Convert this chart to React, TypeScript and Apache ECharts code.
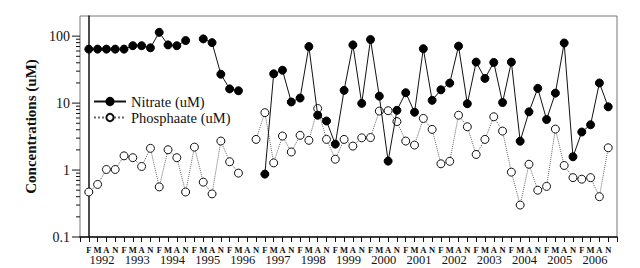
import React, { useEffect, useRef } from "react";
import * as echarts from "echarts";

const MONTHS = ["F", "M", "A", "N"];
const YEARS = ["1992","1993","1994","1995","1996","1997","1998","1999","2000","2001","2002","2003","2004","2005","2006"];

const NITRATE: (number | null)[] = [
  64, 64, 64, 64, 64, 72, 72, 67, 114, 74, 72, 86,
  null, 91, 80, 27, 16.3, 15.3, null, null,
  0.87, 27.4, 31, 10.4, 11.9, 70, 6.6, 5.4, 2.44, 15.5, 74, 9.9,
  89, 12.7, 1.36, 7.8, 14.3, 7.3, 65, 11, 15.8, 19.9, 71, 9.8,
  41, 23.4, 40.5, 10.2, 41, 2.7, 7.4, 16.6, 5.7, 14.1, 79, 1.58,
  3.7, 4.75, 20, 8.8,
];

const PHOSPHATE: (number | null)[] = [
  0.47, 0.61, 1.02, 1.02, 1.63, 1.53, 1.13, 2.11, 0.56, 2.01, 1.53, 0.47,
  2.2, 0.66, 0.44, 2.71, 1.33, 0.9, null, 2.87,
  7.2, 1.28, 3.22, 1.86, 3.3, 2.78, 8.3, 2.87, 1.45, 2.87, 2.28, 3.03,
  3.06, 7.6, 7.7, 5.3, 2.71, 2.36, 5.9, 4.05, 1.24, 1.35, 6.6, 4.43,
  1.71, 2.87, 6.25, 3.82, 0.93, 0.3, 1.22, 0.5, 0.57, 4.09, 1.17, 0.77,
  0.73, 0.77, 0.4, 2.15,
];

const Y_MAJOR = [0.1, 1, 10, 100];
const Y_MINOR_FACTORS = [2, 3, 4, 5, 6, 7, 8, 9];

const FONT = "Liberation Serif";

export default function App() {
  const ref = useRef<HTMLDivElement>(null);

  useEffect(() => {
    if (!ref.current) return;
    const chart = echarts.init(ref.current, undefined, { renderer: "svg" });

    const toPairs = (arr: (number | null)[]) =>
      arr.map((v, i) => [i, v === null ? "-" : v]);

    const yTicks: [number, number][] = [];
    Y_MAJOR.forEach((m, k) => {
      yTicks.push([m, 1]);
      if (k < Y_MAJOR.length - 1) Y_MINOR_FACTORS.forEach((f) => yTicks.push([+(m * f).toPrecision(3), 0]));
    });

    const yearData = YEARS.map((y, i) => [i * 4 + 1.5, y]);

    const option: any = {
      animation: false,
      backgroundColor: "#fff",
      textStyle: { fontFamily: FONT },
      grid: {
        left: 80,
        right: 23,
        top: 16,
        bottom: 31,
        show: true,
        borderColor: "#777",
        borderWidth: 1,
      },
      legend: {
        orient: "vertical",
        left: 88,
        top: 89,
        itemWidth: 32,
        itemHeight: 9,
        itemGap: 1,
        data: ["Nitrate (uM)", "Phosphaate (uM)"],
        textStyle: { fontFamily: FONT, fontSize: 14.5, color: "#111" },
      },
      xAxis: {
        type: "value",
        min: -1,
        max: 60,
        interval: 1,
        splitLine: { show: false },
        axisLine: { lineStyle: { color: "#111", width: 1.5 } },
        axisTick: { show: true, length: 5, lineStyle: { color: "#111" } },
        axisLabel: {
          margin: 8,
          fontFamily: FONT,
          fontSize: 8.5,
          fontWeight: "bold",
          color: "#111",
          formatter: (v: number) => (v >= 0 && v < 60 ? MONTHS[((v % 4) + 4) % 4] : ""),
        },
      },
      yAxis: {
        type: "log",
        logBase: 10,
        min: 0.1,
        max: 200,
        name: "Concentrations (uM)",
        nameLocation: "middle",
        nameGap: 40,
        nameTextStyle: { fontFamily: FONT, fontSize: 15, fontWeight: "bold", color: "#111" },
        splitLine: { show: false },
        axisLine: { lineStyle: { color: "#111", width: 1.5 } },
        axisTick: { show: false },
        axisLabel: {
          margin: 10,
          fontFamily: FONT,
          fontSize: 14,
          color: "#111",
          formatter: (v: number) => (v > 150 ? "" : String(v)),
        },
      },
      series: [
        {
          name: "Phosphaate (uM)",
          type: "line",
          data: toPairs(PHOSPHATE),
          connectNulls: false,
          symbol: "circle",
          symbolSize: 8,
          lineStyle: { color: "#666", width: 1, type: "dotted" },
          itemStyle: { color: "#fff", borderColor: "#111", borderWidth: 1 },
          z: 3,
        },
        {
          name: "Nitrate (uM)",
          type: "line",
          data: toPairs(NITRATE),
          connectNulls: false,
          symbol: "circle",
          symbolSize: 8,
          lineStyle: { color: "#111", width: 1 },
          itemStyle: { color: "#000", borderColor: "#000", borderWidth: 1 },
          z: 4,
        },
        {
          type: "custom",
          clip: false,
          silent: true,
          data: yTicks,
          renderItem: (params: any, api: any) => {
            const v = api.value(0);
            const major = api.value(1) === 1;
            const y = api.coord([0, v])[1];
            const x0 = params.coordSys.x;
            return {
              type: "line",
              shape: { x1: x0 - (major ? 8 : 4), y1: y, x2: x0, y2: y },
              style: { stroke: "#111", lineWidth: 1 },
            };
          },
        },
        {
          type: "custom",
          clip: false,
          silent: true,
          data: yearData,
          renderItem: (params: any, api: any) => {
            const x = api.coord([api.value(0), 0.1])[0];
            const yb = params.coordSys.y + params.coordSys.height;
            return {
              type: "text",
              style: {
                x,
                y: yb + 23,
                text: String(api.value(1)),
                fill: "#111",
                fontFamily: FONT,
                fontSize: 12.5,
                align: "center",
                verticalAlign: "middle",
              },
            };
          },
        },
      ],
    };

    chart.setOption(option);
    return () => chart.dispose();
  }, []);

  return (
    <div style={{ position: "fixed", left: 0, top: 0, width: 640, height: 268, background: "#fff" }}>
      <div ref={ref} style={{ width: 640, height: 268 }} />
    </div>
  );
}
